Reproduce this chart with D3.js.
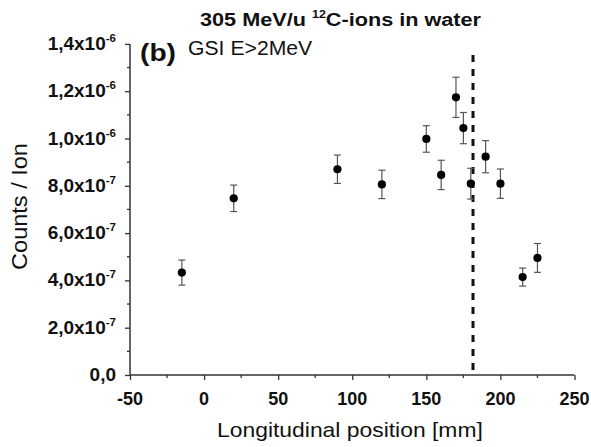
<!DOCTYPE html>
<html><head><meta charset="utf-8">
<script src="https://cdn.jsdelivr.net/npm/d3@7"></script>
<style>body{margin:0;background:#fff}</style>
</head><body>
<svg id="c" width="591" height="447"></svg>
<script>
const xPos   = [-15, 20, 90, 120, 150, 160, 170, 175, 180, 190, 200, 215, 225];
const counts = [4.33e-7, 7.47e-7, 8.70e-7, 8.06e-7, 9.98e-7, 8.46e-7, 1.174e-6, 1.044e-6, 8.09e-7, 9.23e-7, 8.09e-7, 4.14e-7, 4.95e-7];
const errs   = [0.53e-7, 0.56e-7, 0.60e-7, 0.60e-7, 0.56e-7, 0.62e-7, 0.85e-7, 0.66e-7, 0.65e-7, 0.68e-7, 0.62e-7, 0.38e-7, 0.61e-7];
const xTicks = [-50, 0, 50, 100, 150, 200, 250];
const yTicks = [0, 2e-7, 4e-7, 6e-7, 8e-7, 1e-6, 1.2e-6, 1.4e-6];
const yTickMant = ["0,0", "2,0", "4,0", "6,0", "8,0", "1,0", "1,2", "1,4"];
const yTickExp  = ["", "-7", "-7", "-7", "-7", "-6", "-6", "-6"];
const braggPeak = 181.5;

const svg = d3.select("#c");
const x = d3.scaleLinear().domain([-50, 250]).range([130, 574.5]);
const y = d3.scaleLinear().domain([0, 1.4e-6]).range([375, 43.9]);
const F = "'Liberation Sans', Arial, sans-serif";

function placeFit(g, tx, ty, target) {
  const w = g.node().getBBox().width;
  const s = target ? target / w : 1;
  g.attr("transform", `translate(${tx},${ty}) scale(${s},1)`);
}

// axes
const xAxis = d3.axisBottom(x).tickValues(xTicks).tickSize(5).tickFormat("");
const gx = svg.append("g").attr("transform", "translate(0,375)").call(xAxis);
gx.append("g").selectAll("line").data(d3.range(-25, 250, 50)).join("line")
  .attr("x1", d => x(d)).attr("x2", d => x(d)).attr("y1", 0).attr("y2", 3);
const yAxis = d3.axisLeft(y).tickValues(yTicks).tickSize(5).tickFormat("");
const gy = svg.append("g").attr("transform", "translate(130,0)").call(yAxis);
gy.append("g").selectAll("line").data(d3.range(1e-7, 1.4e-6, 2e-7)).join("line")
  .attr("x1", 0).attr("x2", -3).attr("y1", d => y(d)).attr("y2", d => y(d));
[gx, gy].forEach(g => {
  g.select(".domain").attr("stroke", "#333").attr("stroke-width", 1.5);
  g.selectAll("line").attr("stroke", "#333").attr("stroke-width", 1.3);
});
gx.select(".domain").attr("d", `M${x(-50)},0H${x(250)}`);
gy.select(".domain").attr("d", `M0,${y(0)}V${y(1.4e-6)}`);

// x tick labels
svg.append("g").selectAll("text").data(xTicks).join("text")
  .attr("x", d => x(d)).attr("y", 405).attr("text-anchor", "middle")
  .attr("font-family", F).attr("font-weight", "bold").attr("font-size", 18)
  .attr("fill", "#111").text(d => d);

// y tick labels
const yl = svg.append("g").selectAll("text").data(yTicks).join("text")
  .attr("x", 116).attr("y", d => y(d) + 6).attr("text-anchor", "end")
  .attr("font-family", F).attr("font-weight", "bold").attr("font-size", 19).attr("fill", "#111");
yl.each(function(d, i) {
  const t = d3.select(this);
  if (yTickExp[i]) {
    t.append("tspan").text(yTickMant[i] + "x10");
    t.append("tspan").attr("dy", -8).attr("font-size", 11.5).text(yTickExp[i]);
  } else {
    t.text(yTickMant[i]);
  }
});

// dashed line
svg.append("line").attr("x1", x(braggPeak)).attr("x2", x(braggPeak))
  .attr("y1", 55).attr("y2", 375).attr("stroke", "#111").attr("stroke-width", 3)
  .attr("stroke-dasharray", "7,7");

// error bars
const data = xPos.map((v, i) => ({x: v, y: counts[i], e: errs[i]}));
const eb = svg.append("g").attr("stroke", "#555").attr("stroke-width", 1.2);
eb.selectAll(".v").data(data).join("line")
  .attr("x1", d => x(d.x)).attr("x2", d => x(d.x))
  .attr("y1", d => y(d.y + d.e)).attr("y2", d => y(d.y - d.e));
eb.selectAll(".t").data(data).join("line")
  .attr("x1", d => x(d.x) - 3.5).attr("x2", d => x(d.x) + 3.5)
  .attr("y1", d => y(d.y + d.e)).attr("y2", d => y(d.y + d.e));
eb.selectAll(".b").data(data).join("line")
  .attr("x1", d => x(d.x) - 3.5).attr("x2", d => x(d.x) + 3.5)
  .attr("y1", d => y(d.y - d.e)).attr("y2", d => y(d.y - d.e));
svg.append("g").selectAll("circle").data(data).join("circle")
  .attr("cx", d => x(d.x)).attr("cy", d => y(d.y)).attr("r", 4.1).attr("fill", "#000");

// title
const gt = svg.append("g");
const tt = gt.append("text").attr("font-family", F).attr("font-weight", "bold")
  .attr("font-size", 19).attr("fill", "#111");
tt.append("tspan").text("305 MeV/u ");
tt.append("tspan").attr("dy", -8).attr("font-size", 11).text("12");
tt.append("tspan").attr("dy", 8).text("C-ions in water");
placeFit(gt, 200, 26, 282);

const gb = svg.append("g");
gb.append("text").attr("font-family", F).attr("font-weight", "bold")
  .attr("font-size", 23).attr("fill", "#111").text("(b)");
placeFit(gb, 140, 61, 36);

const gg = svg.append("g");
gg.append("text").attr("font-family", F).attr("font-size", 20).attr("fill", "#111").text("GSI E>2MeV");
placeFit(gg, 188, 55, 125);

// axis titles
const gxt = svg.append("g");
gxt.append("text").attr("font-family", F).attr("font-size", 20).attr("fill", "#111")
  .text("Longitudinal position [mm]");
placeFit(gxt, 217, 437, 266);

const gyt = svg.append("g");
const yt = gyt.append("text").attr("font-family", F).attr("font-size", 22).attr("fill", "#111")
  .attr("text-anchor", "middle").text("Counts / Ion");
const yw = yt.node().getBBox().width;
gyt.attr("transform", `translate(27,206.5) rotate(-90) scale(${127 / yw},1)`);
</script>
</body></html>
